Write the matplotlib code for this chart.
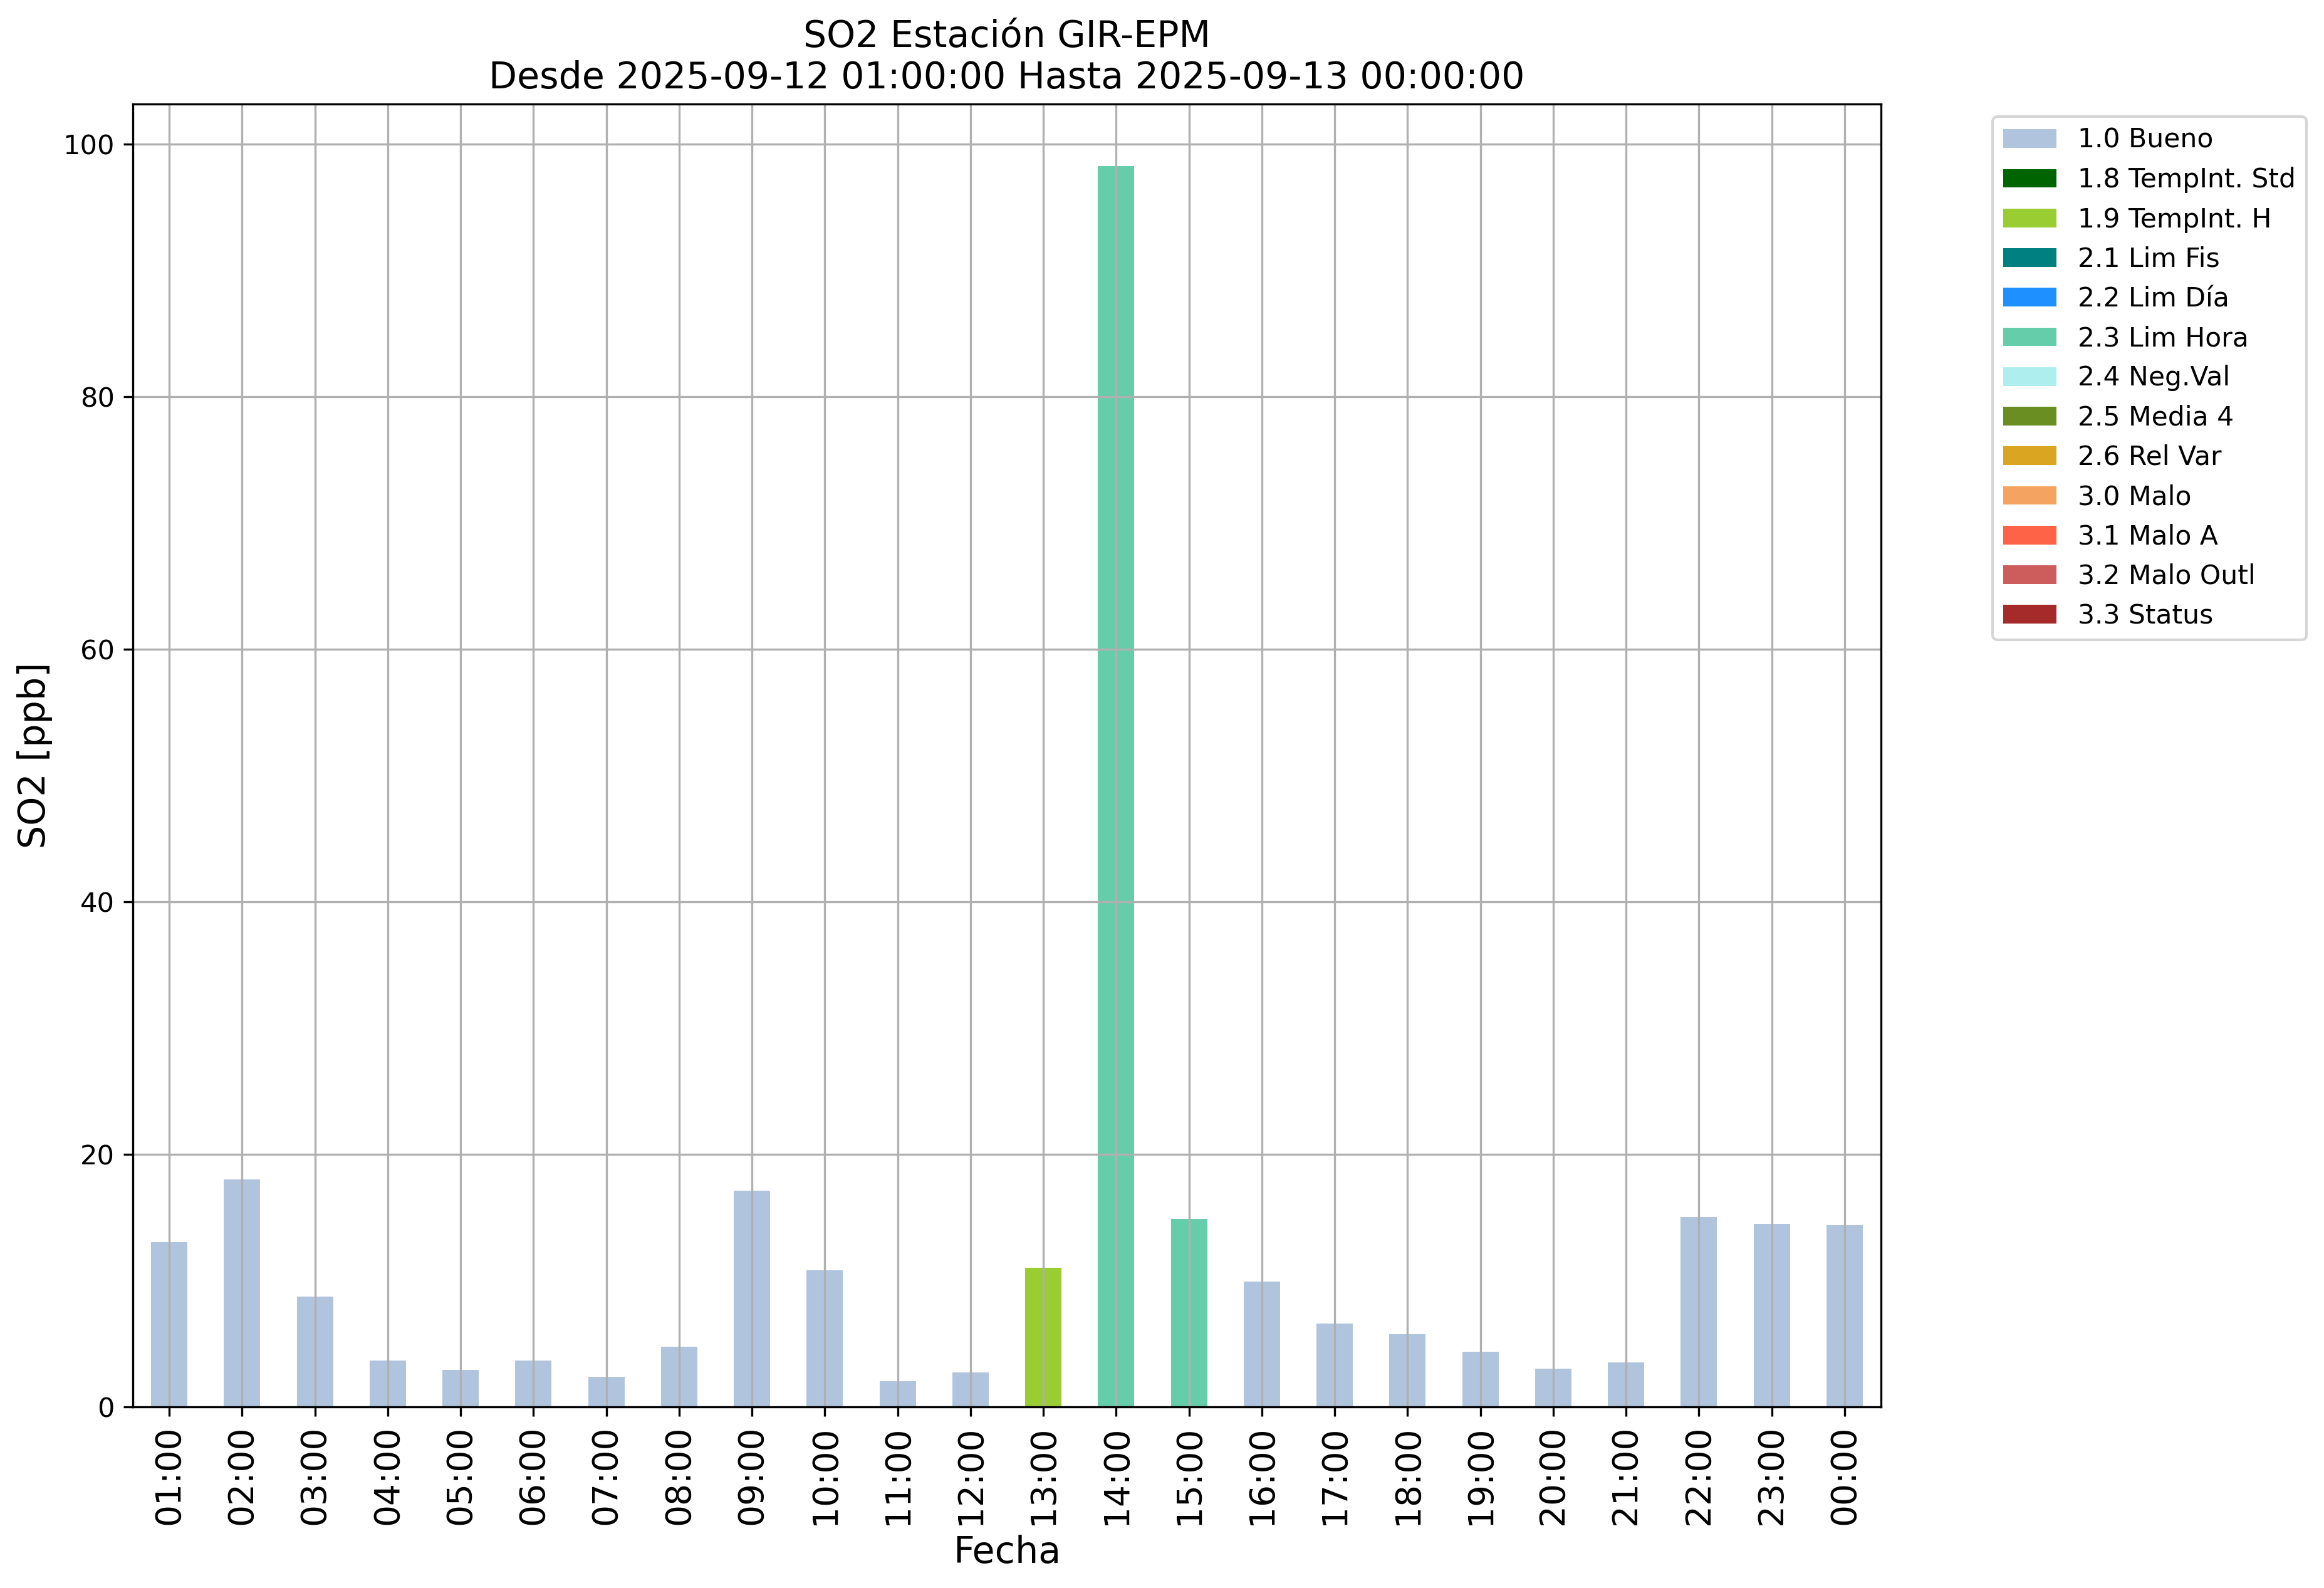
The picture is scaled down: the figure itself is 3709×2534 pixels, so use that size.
import matplotlib
matplotlib.use('Agg')
import matplotlib.pyplot as plt
import pandas as pd

horas = ['01:00', '02:00', '03:00', '04:00', '05:00', '06:00', '07:00', '08:00',
         '09:00', '10:00', '11:00', '12:00', '13:00', '14:00', '15:00', '16:00',
         '17:00', '18:00', '19:00', '20:00', '21:00', '22:00', '23:00', '00:00']
so2 = [13.05, 18.03, 8.72, 3.65, 2.95, 3.65, 2.40, 4.74, 17.13, 10.81, 2.01, 2.75,
       11.01, 98.26, 14.89, 9.92, 6.58, 5.74, 4.39, 3.05, 3.50, 15.04, 14.49, 14.39]
banderas = ['1.0 Bueno'] * 12 + ['1.9 TempInt. H', '2.3 Lim Hora', '2.3 Lim Hora'] + ['1.0 Bueno'] * 9

categorias = ['1.0 Bueno', '1.8 TempInt. Std', '1.9 TempInt. H', '2.1 Lim Fis', '2.2 Lim Día',
              '2.3 Lim Hora', '2.4 Neg.Val', '2.5 Media 4', '2.6 Rel Var', '3.0 Malo',
              '3.1 Malo A', '3.2 Malo Outl', '3.3 Status']
colores = ['lightsteelblue', 'darkgreen', 'yellowgreen', 'teal', 'dodgerblue',
           'mediumaquamarine', 'paleturquoise', 'olivedrab', 'goldenrod', 'sandybrown',
           'tomato', 'indianred', 'brown']

# una columna por bandera, cero donde no aplica
df = pd.DataFrame(0.0, index=horas, columns=categorias)
for h, v, b in zip(horas, so2, banderas):
    df.loc[h, b] = v

fig = plt.figure(figsize=(3709 / 300, 2534 / 300), dpi=300)
ax = fig.add_axes([212 / 3709, 1 - 2245 / 2534, 2790 / 3709, 2079 / 2534])

df.plot(kind='bar', stacked=True, color=colores, ax=ax, width=0.5, grid=True, legend=False)

ax.tick_params(axis='x', labelsize=13.2)
ax.tick_params(axis='y', labelsize=10.4)
ax.set_title('SO2 Estación GIR-EPM\nDesde 2025-09-12 01:00:00 Hasta 2025-09-13 00:00:00', fontsize=14.05)
ax.set_xlabel('Fecha', fontsize=14.1)
ax.set_ylabel('SO2 [ppb]', fontsize=14.1)

ax.legend(loc='upper left', bbox_to_anchor=(3180 / 3709, 1 - 186 / 2534),
          bbox_transform=fig.transFigure, borderaxespad=0, fontsize=10.2)

fig.savefig('out.png', dpi=300)
